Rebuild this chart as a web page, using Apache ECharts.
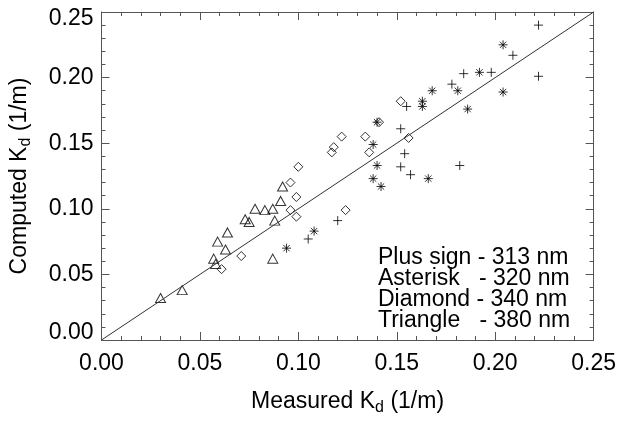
<!DOCTYPE html>
<html>
<head>
<meta charset="utf-8">
<script src="https://cdn.jsdelivr.net/npm/echarts@6/dist/echarts.min.js"></script>
<style>
  html, body { margin: 0; padding: 0; background: #fff; }
  #chart { width: 619px; height: 421px; }
</style>
</head>
<body>
<div id="chart"></div>
<script>
// values
var plusX = [0.222, 0.209, 0.222, 0.184, 0.198, 0.178, 0.155, 0.152, 0.154, 0.152, 0.182, 0.157, 0.120, 0.105];
var plusY = [0.240, 0.217, 0.201, 0.203, 0.204, 0.195, 0.178, 0.161, 0.142, 0.132, 0.133, 0.126, 0.091, 0.077];

var astX = [0.204, 0.192, 0.181, 0.168, 0.204, 0.163, 0.163, 0.186, 0.140, 0.138, 0.140, 0.138, 0.166, 0.142, 0.108, 0.094];
var astY = [0.225, 0.204, 0.190, 0.190, 0.189, 0.182, 0.178, 0.176, 0.166, 0.149, 0.133, 0.123, 0.123, 0.117, 0.083, 0.070];

var diaX = [0.122, 0.118, 0.117, 0.100, 0.096, 0.099, 0.096, 0.099, 0.124, 0.071, 0.061, 0.152, 0.141, 0.134, 0.156, 0.136];
var diaY = [0.155, 0.147, 0.143, 0.132, 0.120, 0.109, 0.099, 0.094, 0.099, 0.064, 0.054, 0.182, 0.166, 0.155, 0.154, 0.143];

var triX = [0.092, 0.091, 0.078, 0.083, 0.087, 0.088, 0.073, 0.075, 0.064, 0.059, 0.063, 0.057, 0.058, 0.087, 0.041, 0.030];
var triY = [0.117, 0.106, 0.100, 0.099, 0.100, 0.091, 0.092, 0.090, 0.082, 0.075, 0.069, 0.062, 0.058, 0.062, 0.038, 0.032];

// 1:1 line
var lineX = [0, 0.25];
var lineY = [0, 0.25];

var legendLines = ['Plus sign - 313 nm', 'Asterisk   - 320 nm', 'Diamond - 340 nm', 'Triangle   - 380 nm'];

var FONT = '"Liberation Sans", Arial, sans-serif';

function pairs(xs, ys) {
  return xs.map(function (x, i) { return [x, ys[i]]; });
}

var symStyle = { color: 'transparent', borderColor: '#000', borderWidth: 1 };

function fmt(v) { return v.toFixed(2); }

function axisBase(pos, labels) {
  return {
    type: 'value',
    position: pos,
    min: 0, max: 0.25, interval: 0.05,
    axisLine: { show: true, onZero: false, lineStyle: { color: '#555', width: 1 } },
    axisTick: { show: true, inside: true, length: 8, lineStyle: { color: '#555' } },
    minorTick: { show: true, splitNumber: 5, length: 4, lineStyle: { color: '#555' } },
    splitLine: { show: false },
    axisLabel: { show: labels }
  };
}

var subRich = { sub: { fontFamily: FONT, fontSize: 16, color: '#000', padding: [12, 0, 0, 0] } };

var xBottom = axisBase('bottom', true);
xBottom.axisLabel = { show: true, formatter: fmt, fontFamily: FONT, fontSize: 23, color: '#000', margin: 12 };
xBottom.name = 'Measured K{sub|d} (1/m)';
xBottom.nameLocation = 'middle';
xBottom.nameGap = 48;
xBottom.nameTextStyle = { fontFamily: FONT, fontSize: 23, color: '#000', rich: subRich };

var yLeft = axisBase('left', true);
yLeft.axisLabel = {
  show: true, fontFamily: FONT, fontSize: 23, color: '#000', margin: 8,
  formatter: function (v) {
    if (v === 0) return '{lo|' + fmt(v) + '}';
    if (v >= 0.25) return '{hi|' + fmt(v) + '}';
    return fmt(v);
  },
  rich: {
    lo: { fontFamily: FONT, fontSize: 23, color: '#000', padding: [0, 0, 14, 0] },
    hi: { fontFamily: FONT, fontSize: 23, color: '#000', padding: [14, 0, 0, 0] }
  }
};
yLeft.name = 'Computed K{sub|d} (1/m)';
yLeft.nameLocation = 'middle';
yLeft.nameGap = 68;
yLeft.nameRotate = 90;
yLeft.nameTextStyle = { fontFamily: FONT, fontSize: 23, color: '#000', rich: subRich };

var chart = echarts.init(document.getElementById('chart'));

chart.setOption({
  animation: false,
  backgroundColor: '#fff',
  grid: { left: 100, right: 24, top: 12, bottom: 58 },
  xAxis: [xBottom, axisBase('top', false)],
  yAxis: [yLeft, axisBase('right', false)],
  series: [
    {
      name: 'line', type: 'line', showSymbol: false, silent: true,
      lineStyle: { color: '#333', width: 1 },
      data: pairs(lineX, lineY)
    },
    {
      name: 'Plus sign', type: 'scatter',
      symbol: 'path://M5,0L5,10M0,5L10,5', symbolSize: 9,
      itemStyle: symStyle, data: pairs(plusX, plusY)
    },
    {
      name: 'Asterisk', type: 'scatter',
      symbol: 'path://M5,0L5,10M0,5L10,5M1.5,1.5L8.5,8.5M8.5,1.5L1.5,8.5', symbolSize: 9,
      itemStyle: symStyle, data: pairs(astX, astY)
    },
    {
      name: 'Diamond', type: 'scatter',
      symbol: 'path://M5,0L10,5L5,10L0,5Z', symbolSize: 9,
      itemStyle: symStyle, data: pairs(diaX, diaY)
    },
    {
      name: 'Triangle', type: 'scatter',
      symbol: 'path://M5,0L10,9L0,9Z', symbolSize: [10, 9],
      itemStyle: symStyle, data: pairs(triX, triY)
    }
  ],
  graphic: legendLines.map(function (t, i) {
    return {
      type: 'text', x: 378, y: 258 + i * 21,
      style: { text: t, font: '23px ' + FONT, fill: '#000', verticalAlign: 'middle' }
    };
  })
});
</script>
</body>
</html>
